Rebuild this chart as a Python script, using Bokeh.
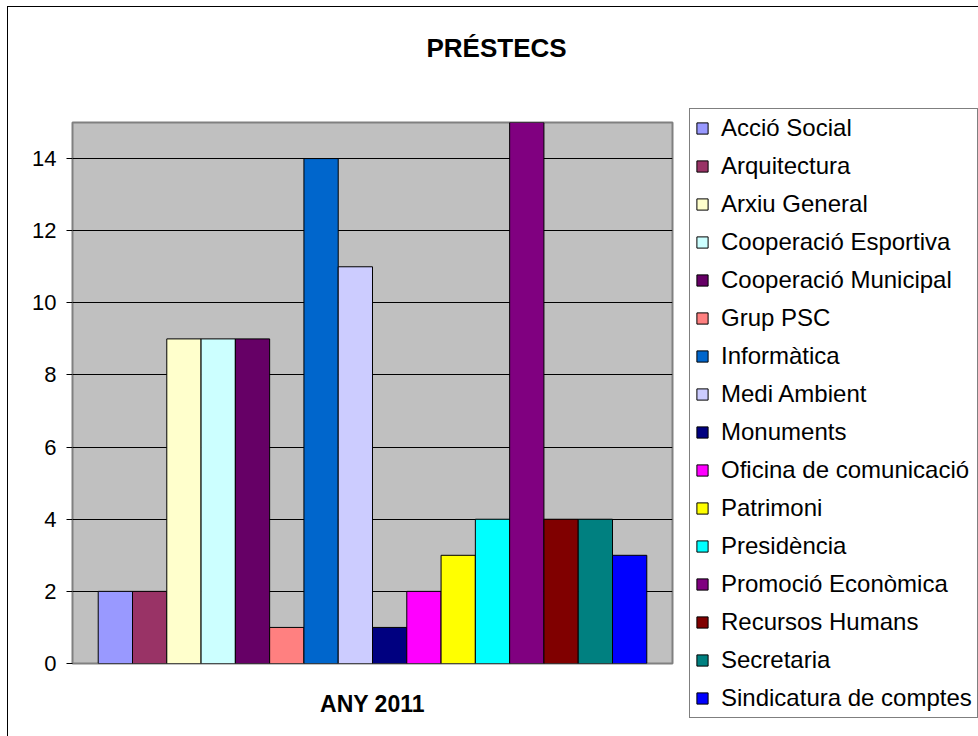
from bokeh.plotting import figure
from bokeh.models import ColumnDataSource, Legend, LegendItem, FixedTicker, Range1d, Title
from bokeh.embed import file_html
from bokeh.resources import INLINE

categories = ["Acció Social", "Arquitectura", "Arxiu General", "Cooperació Esportiva",
              "Cooperació Municipal", "Grup PSC", "Informàtica", "Medi Ambient",
              "Monuments", "Oficina de comunicació", "Patrimoni", "Presidència",
              "Promoció Econòmica", "Recursos Humans", "Secretaria", "Sindicatura de comptes"]
values = [2, 2, 9, 9, 9, 1, 14, 11, 1, 2, 3, 4, 15, 4, 4, 3]
colors = ["#9999FF", "#993366", "#FFFFCC", "#CCFFFF", "#660066", "#FF8080", "#0066CC", "#CCCCFF",
          "#000080", "#FF00FF", "#FFFF00", "#00FFFF", "#800080", "#800000", "#008080", "#0000FF"]
y_ticks = [0, 2, 4, 6, 8, 10, 12, 14]
title_text = "PRÉSTECS"
x_title = "ANY 2011"

FONT = "Liberation Sans"

n = len(values)
src = ColumnDataSource(dict(x=[i + 0.5 for i in range(n)], top=values, color=colors, label=categories))

p = figure(frame_width=600, frame_height=541, output_backend="svg", toolbar_location=None,
           x_range=Range1d(-0.75, n + 0.75), y_range=Range1d(0, 15),
           min_border_left=64, min_border_right=306, min_border_top=115, min_border_bottom=73)
p.styles = {"margin-left": "7px", "margin-top": "6px",
            "border-left": "1px solid black", "border-top": "1px solid black"}

p.background_fill_color = "#C0C0C0"
p.border_fill_color = "white"
p.outline_line_color = "#808080"
p.outline_line_width = 2

r = p.vbar(x="x", top="top", width=1, bottom=0, source=src, fill_color="color",
           line_color="black", line_width=1)

p.xgrid.visible = False
p.ygrid.grid_line_color = "black"
p.ygrid.grid_line_width = 1
p.ygrid.ticker = FixedTicker(ticks=y_ticks)

yax = p.yaxis[0]
yax.ticker = FixedTicker(ticks=y_ticks)
yax.axis_line_color = None
yax.major_tick_line_color = "black"
yax.major_tick_out = 6
yax.major_tick_in = 0
yax.minor_tick_line_color = None
yax.major_label_text_font = FONT
yax.major_label_text_font_size = "22px"
yax.major_label_text_color = "black"
yax.major_label_standoff = 10

xax = p.xaxis[0]
xax.ticker = FixedTicker(ticks=[])
xax.axis_line_color = None
xax.major_tick_line_color = None
xax.minor_tick_line_color = None
xax.major_label_text_font_size = "0px"
xax.axis_label = x_title
xax.axis_label_text_font = FONT
xax.axis_label_text_font_size = "23px"
xax.axis_label_text_font_style = "bold"
xax.axis_label_text_color = "black"
xax.axis_label_standoff = 27

# real chart title (outermost) and a blank spacer between it and the frame
p.title.text = title_text
p.title.align = "left"
p.title.offset = 354
p.title.text_font = FONT
p.title.text_font_size = "26px"
p.title.text_font_style = "bold"
p.title.text_color = "black"
p.title.standoff = 0
spacer = Title(text=" ", text_font_size="1px", standoff=57)
p.add_layout(spacer, "above")

items = [LegendItem(label=categories[i], renderers=[r], index=i) for i in range(n)]
legend = Legend(items=items, location=(17, -55), label_text_font=FONT, label_text_font_size="24px",
                label_text_color="black", glyph_width=14, glyph_height=14, label_height=24,
                spacing=10, padding=5, margin=0, label_standoff=12,
                border_line_color="black", border_line_width=1, background_fill_color="white",
                background_fill_alpha=1.0)
p.add_layout(legend, "right")

open("out.html", "w").write(file_html(p, INLINE))
